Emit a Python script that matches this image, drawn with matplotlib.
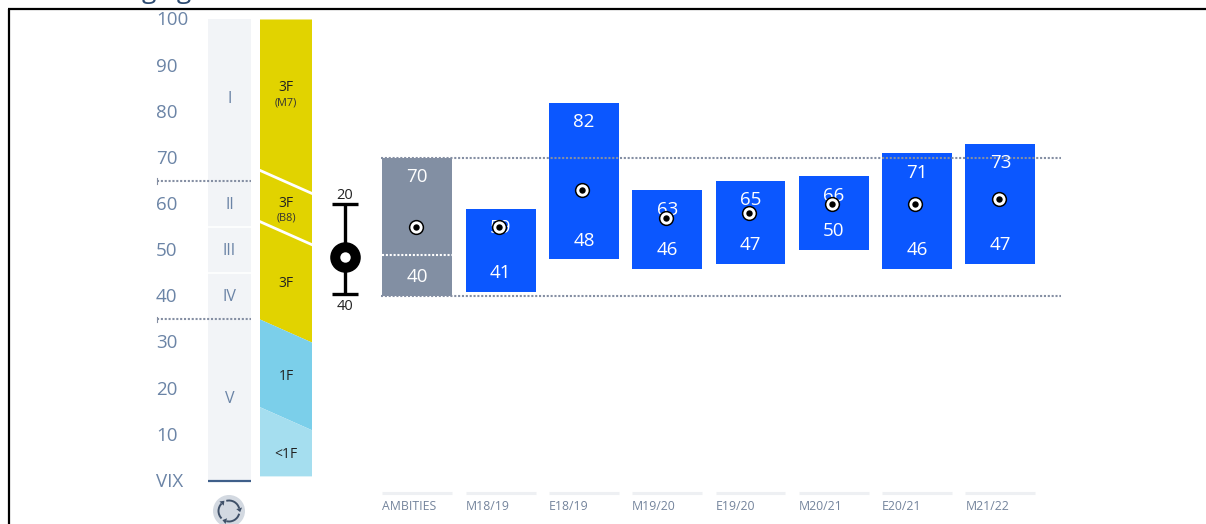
import matplotlib
matplotlib.use("Agg")
import math
import matplotlib.pyplot as plt
from matplotlib.patches import Polygon, Rectangle, Circle, Arc

plt.rcParams['font.family'] = ['Open Sans', 'DejaVu Sans']

W, H = 1206, 524
PX_PER_UNIT = 4.615
ZERO_PX = 481

scale_ticks = [100, 90, 80, 70, 60, 50, 40, 30, 20, 10]
grades = ["I", "II", "III", "IV", "V"]
grade_tops = [100, 65, 55, 45, 35]
grade_bottoms = [65, 55, 45, 35, 0]
grade_label_y = [83, 60, 50, 40, 18]

categories = ["AMBITIES", "M18/19", "E18/19", "M19/20", "E19/20", "M20/21", "E20/21", "M21/22"]
highs = [70, 59, 82, 63, 65, 66, 71, 73]
lows = [40, 41, 48, 46, 47, 50, 46, 47]
means = [55, 55, 63, 57, 58, 60, 60, 61]
ambition_split = 49

pointer_top = 60
pointer_mid = 48.5
pointer_bottom = 40.5
pointer_labels = ["20", "40"]

NAVY = "#6b84a6"
BLUE = "#0b57ff"
GREY = "#828fa3"
DOT = "#858fa3"
DOTS = (0, (1, 0.85))
TXT = -0.2  # text sits a bit low in the reference

fig = plt.figure(figsize=(W / 100, H / 100), dpi=100)
ax = fig.add_axes([0, 0, 1, 1])
ax.set_xlim(0, W)
ax.set_ylim((ZERO_PX - H) / PX_PER_UNIT, ZERO_PX / PX_PER_UNIT)
ax.axis("off")

# frame around the widget, title is cut off above it
frame_y = (ZERO_PX - 9) / PX_PER_UNIT
ax.plot([8.5, 8.5], [ax.get_ylim()[0], frame_y], color="black", lw=1.6, solid_capstyle="butt")
ax.plot([7.5, W], [frame_y, frame_y], color="black", lw=1.6, solid_capstyle="butt")
ax.text(167, ax.get_ylim()[1] + 1.9, "g   g", fontsize=19, color="#2c4a70", ha="center", va="center")

# scale on the left
for v in scale_ticks:
    ax.text(156, v + TXT, str(v), color=NAVY, fontsize=13.5, ha="left", va="center")
ax.text(156, TXT, "VIX", color=NAVY, fontsize=13.5, ha="left", va="center")

# grade strip
for g, top, bot, ly in zip(grades, grade_tops, grade_bottoms, grade_label_y):
    ax.add_patch(Rectangle((208, bot), 43, top - bot, fc="#f2f4f7", ec="none"))
    ax.text(229.5, ly + TXT, g, color=NAVY, fontsize=11.5, ha="center", va="center")
for v in [55, 45]:
    ax.plot([208, 251], [v, v], color="white", lw=1.2)
ax.plot([208, 251], [0, 0], color="#3f5f8a", lw=1.6, solid_capstyle="butt")
for v in [65, 35]:
    ax.plot([157, 251], [v, v], color=DOT, lw=1.5, ls=DOTS)
    ax.plot([156.5, 156.5], [v - 0.6, v + 0.6], color=DOT, lw=0.8)

# level band with sloped edges
ax.add_patch(Polygon([(260, 100), (312, 100), (312, 30), (260, 35)], fc="#e1d300", ec="none"))
ax.add_patch(Polygon([(260, 35), (312, 30), (312, 11), (260, 16)], fc="#7bcfea", ec="none"))
ax.add_patch(Polygon([(260, 16), (312, 11), (312, 1), (260, 1)], fc="#a5deef", ec="none"))
ax.plot([260, 312], [67.3, 62.3], color="white", lw=2)
ax.plot([260, 312], [56.2, 51.2], color="white", lw=2)
ax.text(286, 85.2, "3F", fontsize=10, ha="center", va="center", color="#222222")
ax.text(286, 82.0, "(M7)", fontsize=7.8, ha="center", va="center", color="#333333")
ax.text(286, 60.2, "3F", fontsize=10, ha="center", va="center", color="#222222")
ax.text(286, 57.0, "(B8)", fontsize=7.8, ha="center", va="center", color="#333333")
ax.text(286, 42.7, "3F", fontsize=10, ha="center", va="center", color="#222222")
ax.text(286, 22.7, "1F", fontsize=10, ha="center", va="center", color="#222222")
ax.text(286, 5.7, "<1F", fontsize=10, ha="center", va="center", color="#222222")

# pointer
ax.plot([345, 345], [pointer_bottom, pointer_top], color="black", lw=2.4, solid_capstyle="butt")
for v in [pointer_top, pointer_bottom]:
    ax.plot([332, 358], [v, v], color="black", lw=2.4, solid_capstyle="butt")
ax.plot([345], [pointer_mid], "o", ms=22, mfc="black", mec="none")
ax.plot([345], [pointer_mid], "o", ms=7.5, mfc="white", mec="none")
ax.text(345, pointer_top + 1.9, pointer_labels[0], fontsize=10.5, ha="center", va="center", color="#222222")
ax.text(345, pointer_bottom - 2.7, pointer_labels[1], fontsize=10.5, ha="center", va="center", color="#222222")

# reset button, clipped by the picture edge
bx = fig.add_axes([0, 0, 1, 1])
bx.set_xlim(0, W)
bx.set_ylim(H, 0)
bx.axis("off")
bx.patch.set_alpha(0)
bx.add_patch(Circle((229, 511), 16, fc="#d3d9e1", ec="none"))
for start in [0, 120, 240]:
    bx.add_patch(Arc((229, 511), 21, 21, theta1=start + 15, theta2=start + 105, color="#3f5068", lw=1.4))
    a = math.radians(start + 105)
    tip = (229 + 10.5 * math.cos(a), 511 + 10.5 * math.sin(a))
    d = a + math.pi / 2
    bx.add_patch(Polygon([
        (tip[0] + 4 * math.cos(d), tip[1] + 4 * math.sin(d)),
        (tip[0] + 3 * math.cos(a), tip[1] + 3 * math.sin(a)),
        (tip[0] - 3 * math.cos(a), tip[1] - 3 * math.sin(a)),
    ], fc="#3f5068", ec="none"))

# bars, x in category slots
sx = fig.add_axes([0, 0, 1, 1])
SLOT = 83.3
sx.set_xlim(-417.3 / SLOT, (W - 417.3) / SLOT)
sx.set_ylim(ax.get_ylim())
sx.axis("off")
sx.patch.set_alpha(0)
xs = list(range(len(categories)))
colors = [GREY] + [BLUE] * (len(categories) - 1)
sx.bar(xs, [h - l for h, l in zip(highs, lows)], bottom=lows, width=0.84, color=colors)
sx.plot([-0.43, 7.73], [70, 70], color=DOT, lw=1.5, ls=DOTS)
sx.plot([-0.43, 7.73], [40, 40], color=DOT, lw=1.5, ls=DOTS)
sx.plot([-0.42, 0.42], [ambition_split, ambition_split], color="white", lw=1.5, ls=DOTS)
for x, h, l, m, c in zip(xs, highs, lows, means, categories):
    sx.text(x, h - 4.2, str(h), color="white", fontsize=13.5, ha="center", va="center")
    sx.text(x, l + 4.1, str(l), color="white", fontsize=13.5, ha="center", va="center")
    sx.plot([x - 0.02], [m], "o", ms=11, mfc="black", mec="none", zorder=4)
    sx.plot([x - 0.02], [m], "o", ms=8.8, mfc="white", mec="none", zorder=5)
    sx.plot([x - 0.02], [m], "o", ms=4.6, mfc="black", mec="none", zorder=6)
    sx.plot([x - 0.42, x + 0.42], [-2.7, -2.7], color="#eef0f3", lw=2.2, solid_capstyle="butt")
    sx.text(x - 0.42, -5.5, c, color="#74849c", fontsize=8.8, ha="left", va="center")

fig.savefig("out.png", dpi=100)
